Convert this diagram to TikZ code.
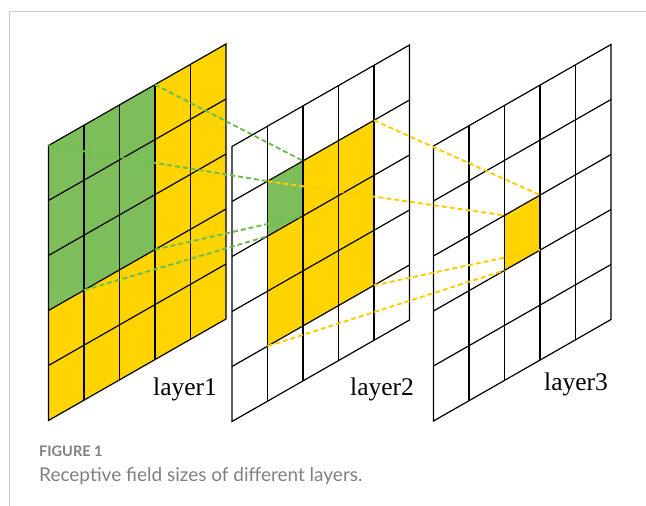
\documentclass[tikz,border=0pt]{standalone}
\usepackage{fontspec}
\setmainfont{Liberation Serif}
\newfontfamily\capfont{Lato}
\usetikzlibrary{positioning,calc}
\definecolor{cellgreen}{RGB}{125,190,90}
\definecolor{cellyellow}{RGB}{255,212,0}
\definecolor{dashgreen}{RGB}{108,190,78}
\definecolor{dashyellow}{RGB}{255,204,0}
\definecolor{framegray}{RGB}{204,204,204}
\definecolor{capgray}{RGB}{128,128,128}

\begin{document}
\begin{tikzpicture}[
    x=1pt,y=-1pt,
    layer/.style={x={(35.5pt,20.3pt)},y={(0pt,-55pt)}},
    gridline/.style={line width=1.2pt,black,line join=miter},
    greenlink/.style={line width=1.9pt,dashgreen,dash pattern=on 5pt off 3pt},
    yellowlink/.style={line width=1.9pt,dashyellow,dash pattern=on 5pt off 3pt},
    layerlabel/.style={font=\fontsize{25.5}{25.5}\selectfont,anchor=base west,inner sep=0pt},
    caphead/.style={font=\capfont\bfseries\fontsize{14.5}{14.5}\selectfont,text=capgray,anchor=base west,inner sep=0pt},
    captext/.style={font=\capfont\fontsize{19}{19}\selectfont,text=capgray,anchor=base west,inner sep=0pt}
]
    \useasboundingbox (0,0) rectangle (646,506);
    \draw[framegray,line width=1pt] (9,506) -- (9,11.7) -- (646,11.7);

    \foreach \n/\x/\y in {1/48.5/145.5,2/232/146.5,3/433.5/146}{
        \begin{scope}[shift={(\x,\y)},layer]
            \foreach \c in {0,...,5}
                \foreach \r in {0,...,5}
                    \coordinate (L\n-\c-\r) at (\c,\r);
        \end{scope}
    }

    \fill[cellyellow] (L1-0-0) -- (L1-5-0) -- (L1-5-5) -- (L1-0-5) -- cycle;
    \fill[cellgreen] (L1-0-0) -- (L1-3-0) -- (L1-3-3) -- (L1-0-3) -- cycle;
    \fill[cellyellow] (L2-1-1) -- (L2-4-1) -- (L2-4-4) -- (L2-1-4) -- cycle;
    \fill[cellgreen] (L2-1-1) -- (L2-2-1) -- (L2-2-2) -- (L2-1-2) -- cycle;
    \fill[cellyellow] (L3-2-2) -- (L3-3-2) -- (L3-3-3) -- (L3-2-3) -- cycle;

    \foreach \n in {1,2,3}{
        \foreach \i in {1,...,4}{
            \draw[gridline] (L\n-\i-0) -- (L\n-\i-5);
            \draw[gridline] (L\n-0-\i) -- (L\n-5-\i);
        }
        \draw[gridline] (L\n-0-0) -- (L\n-5-0) -- (L\n-5-5) -- (L\n-0-5) -- cycle;
    }

    \draw[greenlink] (L1-3-0) -- (L2-2-1);
    \draw[greenlink] (L1-0-0) -- (L2-1-1);
    \draw[greenlink] (L1-3-3) -- (L2-2-2);
    \draw[greenlink] (L1-1-3) -- (L2-1-2);

    \draw[yellowlink] (L2-4-1) -- (L3-3-2);
    \draw[yellowlink] (L2-1-1) -- (L3-2-2);
    \draw[yellowlink] (L2-4-4) -- (L3-3-3);
    \draw[yellowlink] (L2-1-4) -- (L3-2-3);

    \node[layerlabel] (lab1) at (153,395) {layer1};
    \node[layerlabel] (lab2) at (350,395) {layer2};
    \node[layerlabel] (lab3) at (544,390) {layer3};

    \node[caphead] (fighead) at (39,456) {FIGURE 1};
    \node[captext] (figtext) at (39,481) {Receptive field sizes of different layers.};
\end{tikzpicture}
\end{document}
